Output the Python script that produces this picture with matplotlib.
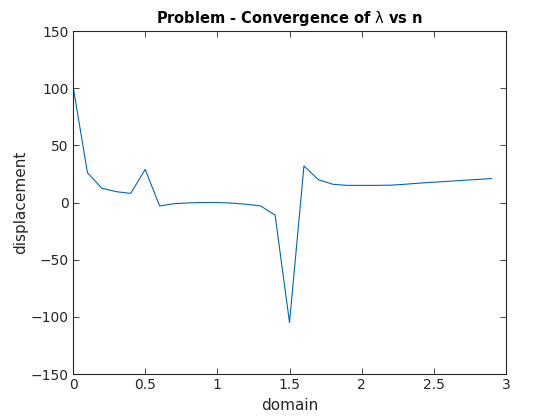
import matplotlib
matplotlib.use("Agg")
import matplotlib.pyplot as plt
import numpy

domain = [0.0, 0.1, 0.2, 0.3, 0.4, 0.5, 0.6, 0.7, 0.8, 0.9,
          1.0, 1.1, 1.2, 1.3, 1.4, 1.5, 1.6, 1.7, 1.8, 1.9,
          2.0, 2.1, 2.2, 2.3, 2.4, 2.5, 2.6, 2.7, 2.8, 2.9]
displacement = [102, 26, 12.5, 9.5, 8, 29, -3, -1, -0.3, 0,
                0, -0.5, -1.5, -3, -11, -105, 32, 20, 16, 15,
                15, 15, 15.2, 16, 17, 17.8, 18.6, 19.4, 20.2, 21]

x_ticks = [0, 0.5, 1, 1.5, 2, 2.5, 3]
x_labels = ["0", "0.5", "1", "1.5", "2", "2.5", "3"]
y_ticks = [-150, -100, -50, 0, 50, 100, 150]

plt.rcParams['font.family'] = ['DejaVu Sans']
plt.rcParams['mathtext.fontset'] = 'dejavusans'

fig = plt.figure(figsize=(5.6, 4.2), dpi=100)
ax = fig.add_axes([0.1304, 0.1095, 0.7732, 0.8165])

ax.plot(domain, displacement, color='#0068ad', linewidth=0.8)

ax.set_xlim(0, 3)
ax.set_ylim(-150, 150)
ax.set_xticks(x_ticks)
ax.set_xticklabels(x_labels)
ax.set_yticks(y_ticks)
ax.tick_params(direction='in', length=4, width=0.6, top=True, right=True,
               labelsize=10, colors='#262626', pad=3)
for sp in ax.spines.values():
    sp.set_linewidth(0.8)
    sp.set_color('#262626')

ax.set_xlabel('domain', fontsize=11, color='#262626', labelpad=4)
ax.set_ylabel('displacement', fontsize=11, color='#262626', labelpad=2)
ax.set_title(r'Problem - Convergence of $\mathrm{\lambda}$ vs n', fontsize=10.5,
             fontweight='bold', pad=6)

fig.savefig('out.png', dpi=100)
